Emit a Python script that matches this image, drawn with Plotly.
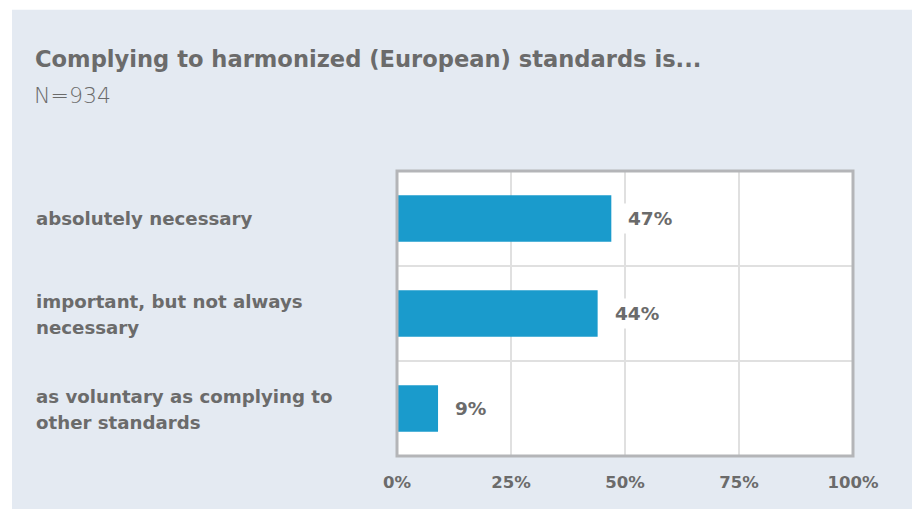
import plotly.graph_objects as go

categories = ["absolutely necessary", "important, but not always<br>necessary",
              "as voluntary as complying to<br>other standards"]
values = [47, 44, 9]
value_labels = ["47%", "44%", "9%"]
tick_vals = [0, 25, 50, 75, 100]
tick_text = ["0%", "25%", "50%", "75%", "100%"]
title = "Complying to harmonized (European) standards is..."
subtitle = "N=934"

W, H = 912, 509
L, R, T, B = 397, 59, 170.5, 53
ph = H - T - B
pw = W - L - R

def px2paper_x(x):
    return (x - L) / pw

def px2paper_y(y):
    return (H - B - y) / ph

FONT = "DejaVu Sans"
GRAY = "#6b6b6b"
BLUE = "#1a9bcc"
LINE_GAP = 26.5

ypos = list(range(len(categories)))

fig = go.Figure()
fig.add_trace(go.Bar(
    x=values, y=ypos, orientation="h", width=0.49,
    marker=dict(color=BLUE, line=dict(width=0)),
    hoverinfo="skip",
))

annotations = []
for yv, v, t in zip(ypos, values, value_labels):
    annotations.append(dict(
        x=v, y=yv, xref="x", yref="y", text="<b>%s</b>" % t, showarrow=False,
        xanchor="left", yanchor="middle", xshift=12, bgcolor="white", borderpad=4,
        font=dict(family=FONT, size=18.5, color=GRAY),
    ))
for yv, c in zip(ypos, categories):
    lines = c.split("<br>")
    n = len(lines)
    for i, ln in enumerate(lines):
        shift = ((n - 1) / 2 - i) * LINE_GAP
        annotations.append(dict(
            x=px2paper_x(34), y=yv, xref="paper", yref="y", text="<b>%s</b>" % ln,
            showarrow=False, xanchor="left", yanchor="middle", align="left",
            yshift=shift - (1 if n > 1 else 0),
            font=dict(family=FONT, size=18.2, color=GRAY),
        ))
annotations.append(dict(
    x=px2paper_x(33), y=px2paper_y(58), xref="paper", yref="paper",
    text="<b>%s</b>" % title, showarrow=False, xanchor="left", yanchor="middle",
    font=dict(family=FONT, size=22.6, color=GRAY),
))
annotations.append(dict(
    x=px2paper_x(32), y=px2paper_y(95), xref="paper", yref="paper",
    text=subtitle, showarrow=False, xanchor="left", yanchor="middle",
    font=dict(family="DejaVu Sans", size=22, color=GRAY, weight=200),
))

fig.update_layout(
    width=W, height=H,
    margin=dict(l=L, r=R, t=T, b=B, pad=0),
    paper_bgcolor="white",
    plot_bgcolor="white",
    showlegend=False,
    annotations=annotations,
    shapes=[
        dict(type="rect", xref="paper", yref="paper", layer="below",
             x0=px2paper_x(12), x1=px2paper_x(W + 5),
             y0=px2paper_y(H + 5), y1=px2paper_y(9),
             fillcolor="#e4eaf2", line=dict(width=0)),
        dict(type="rect", xref="paper", yref="paper", layer="below",
             x0=0, x1=1, y0=0, y1=1, fillcolor="white", line=dict(width=0)),
        dict(type="rect", xref="paper", yref="paper", layer="above",
             x0=0, x1=1, y0=0, y1=1, line=dict(color="#b4b5b8", width=3)),
    ],
    xaxis=dict(
        range=[0, 100], tickvals=tick_vals, ticktext=["<b>%s</b>" % t for t in tick_text],
        showgrid=True, gridcolor="#e0e0e0", gridwidth=2, zeroline=False,
        showline=False, ticks="outside", ticklen=11, tickcolor="rgba(0,0,0,0)",
        tickfont=dict(family=FONT, size=16.5, color=GRAY), fixedrange=True,
    ),
    yaxis=dict(
        range=[len(categories) - 0.5, -0.5], tickvals=[0.5, 1.5],
        showticklabels=False, showgrid=True, gridcolor="#e0e0e0", gridwidth=2,
        zeroline=False, showline=False, ticks="", fixedrange=True,
    ),
)

fig.write_html("out.html", config={"displayModeBar": False},
               post_script="document.body.style.margin='0';")
